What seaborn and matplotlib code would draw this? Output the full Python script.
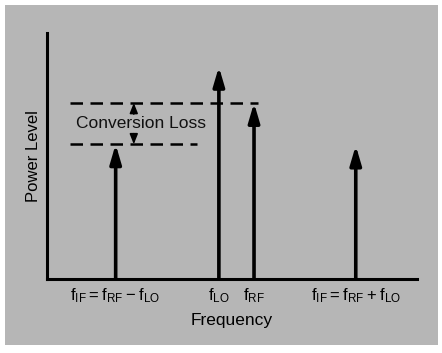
import matplotlib
matplotlib.use("Agg")
import matplotlib.pyplot as plt
import seaborn as sns
from matplotlib.patches import Rectangle

# Spectral lines (frequency position, power level)
labels = [r'$\mathregular{f_{IF}=f_{RF}-f_{LO}}$', r'$\mathregular{f_{LO}}$',
          r'$\mathregular{f_{RF}}$', r'$\mathregular{f_{IF}=f_{RF}+f_{LO}}$']
freqs = [18.6, 46.5, 56.0, 83.5]
levels = [54.7, 86.2, 71.5, 54.2]

# Conversion loss markers
rf_level = 71.5
if_level = 54.7
loss_x = 23.5

sns.set_theme(style="white")
plt.rcParams['font.family'] = ['Liberation Sans', 'DejaVu Sans']
plt.rcParams['mathtext.fontset'] = 'custom'
plt.rcParams['mathtext.rm'] = 'Liberation Sans'
plt.rcParams['text.color'] = 'black'
plt.rcParams['axes.labelcolor'] = 'black'
plt.rcParams['xtick.color'] = 'black'

bg = '#b6b6b6'
fig = plt.figure(figsize=(4.42, 3.53), dpi=100, facecolor='white')
fig.patches.append(Rectangle((0.011, 0.023), 0.98, 0.963, transform=fig.transFigure,
                             facecolor=bg, edgecolor='none', zorder=-1))
ax = fig.add_axes([0.106, 0.21, 0.837, 0.697])
ax.set_zorder(2)
ax.set_facecolor('none')
ax.set_xlim(0, 100)
ax.set_ylim(0, 100)

# arrows for each spectral line
for f, lv in zip(freqs, levels):
    ax.annotate('', xy=(f, lv), xytext=(f, 0),
                arrowprops=dict(arrowstyle='-|>,head_length=0.95,head_width=0.28',
                                color='black', lw=2.6, shrinkA=0, shrinkB=0))

# dashed reference levels
ax.plot([6.2, 57.0], [rf_level, rf_level], color='black', lw=1.8, ls=(0, (5, 3)))
ax.plot([6.2, 40.5], [if_level, if_level], color='black', lw=1.8, ls=(0, (5, 3)))

# conversion loss text and small arrows
ax.text(25.5, 63.0, 'Conversion Loss', ha='center', va='center', fontsize=12.5, color='#111111')
ax.annotate('', xy=(loss_x, rf_level), xytext=(loss_x, 67.0),
            arrowprops=dict(arrowstyle='-|>,head_length=0.5,head_width=0.2',
                            color='black', lw=1.2, shrinkA=0, shrinkB=0))
ax.annotate('', xy=(loss_x, if_level), xytext=(loss_x, 59.0),
            arrowprops=dict(arrowstyle='-|>,head_length=0.5,head_width=0.2',
                            color='black', lw=1.2, shrinkA=0, shrinkB=0))

ax.set_xticks(freqs)
ax.set_xticklabels(labels, fontsize=12)
ax.set_yticks([])
ax.tick_params(axis='x', length=0, pad=5)
ax.set_xlabel('Frequency', fontsize=12.5, labelpad=6)
ax.set_ylabel('Power Level', fontsize=12, labelpad=4)

sns.despine(ax=ax)
for s in ['left', 'bottom']:
    ax.spines[s].set_linewidth(2.2)
    ax.spines[s].set_color('black')

fig.savefig('out.png', dpi=100, facecolor='white')
